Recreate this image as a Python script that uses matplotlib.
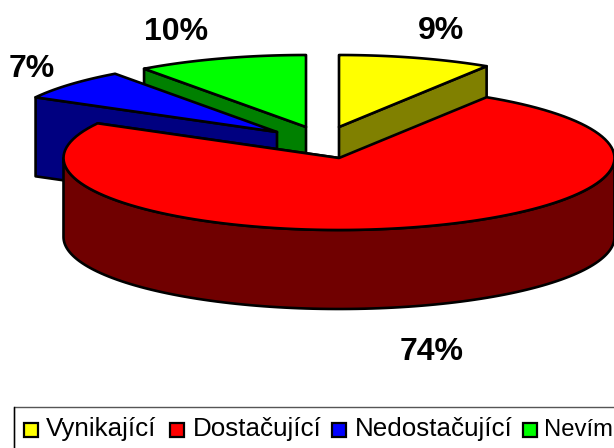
import numpy as np
import matplotlib
matplotlib.use('Agg')
import matplotlib.pyplot as plt
from matplotlib.patches import Polygon, Rectangle

names = ['Vynikající', 'Dostačující', 'Nedostačující', 'Nevím']
values = [9, 74, 7, 10]
labels = ['9%', '74%', '7%', '10%']

top_colors = ['#ffff00', '#ff0000', '#0000ff', '#00ff00']
side_colors = ['#808000', '#700000', '#000080', '#008000']

# apex of every slice on the canvas, the exploded offsets
apex = [(339, 127), (339, 158), (277, 132), (306, 127)]
rx, ry = 275.5, 72
depth = 79
lw = 1.9

plt.rcParams['font.family'] = ['Liberation Sans', 'DejaVu Sans']

fig = plt.figure(figsize=(6.14, 4.48), dpi=100)
ax = fig.add_axes([0, 0, 1, 1])
ax.set_xlim(0, 614)
ax.set_ylim(448, 0)
ax.axis('off')

cum = np.cumsum([0] + values) / sum(values) * 2 * np.pi


def rim(i, a, b, drop=0):
    t = np.linspace(a, b, 120)
    x = apex[i][0] + rx * np.sin(t)
    y = apex[i][1] - ry * np.cos(t) + drop
    return np.column_stack([x, y])


def add_poly(pts, color, z):
    ax.add_patch(Polygon(pts, closed=True, facecolor=color, edgecolor='black',
                         linewidth=lw, joinstyle='round', zorder=z))


def side_cut(i, ang, z):
    p = rim(i, ang, ang)[0]
    a = apex[i]
    pts = [a, p, (p[0], p[1] + depth), (a[0], a[1] + depth)]
    add_poly(pts, side_colors[i], z)


def draw_slice(i, z):
    a, b = cum[i], cum[i + 1]
    # cut faces turned to the viewer
    side_cut(i, b if i < 2 else a, z)
    # outer wall, only the front half of the ellipse
    lo, hi = max(a, np.pi / 2), min(b, 3 * np.pi / 2)
    if hi > lo:
        upper = rim(i, lo, hi)
        lower = rim(i, hi, lo, depth)
        add_poly(np.vstack([upper, lower]), side_colors[i], z + 0.1)
    top = np.vstack([[apex[i]], rim(i, a, b)])
    add_poly(top, top_colors[i], z + 0.2)


# back slices first, red one goes on top of everything
draw_slice(3, 1)
draw_slice(2, 2)
draw_slice(0, 3)
draw_slice(1, 4)

label_pos = [(441, 31), (432, 352), (32, 69), (176, 32)]
for lab, pos in zip(labels, label_pos):
    ax.text(pos[0], pos[1], lab, fontsize=23, fontweight='bold',
            ha='center', va='center', color='black')

# legend box runs off the canvas on the right and at the bottom
ax.add_patch(Rectangle((13.5, 407), 640, 60, facecolor='white',
                       edgecolor='#555555', linewidth=1.0, zorder=5))
ax.plot([13.5, 13.5], [407, 448], color='black', lw=1.0, zorder=5.5)
swatch_x = [23.5, 169.5, 332, 522.5]
text_x = [45.5, 193, 354.5, 544.5]
text_size = [18.7, 18.7, 18.7, 17.2]  # last one has to stay inside the canvas
for name, col, sx, tx, fs in zip(names, top_colors, swatch_x, text_x, text_size):
    ax.add_patch(Rectangle((sx, 423), 14, 14, facecolor=col,
                           edgecolor='black', linewidth=1.6, zorder=6))
    ax.text(tx, 436, name, fontsize=fs, ha='left', va='baseline',
            color='black', zorder=6)

fig.savefig('out.png', dpi=100)
